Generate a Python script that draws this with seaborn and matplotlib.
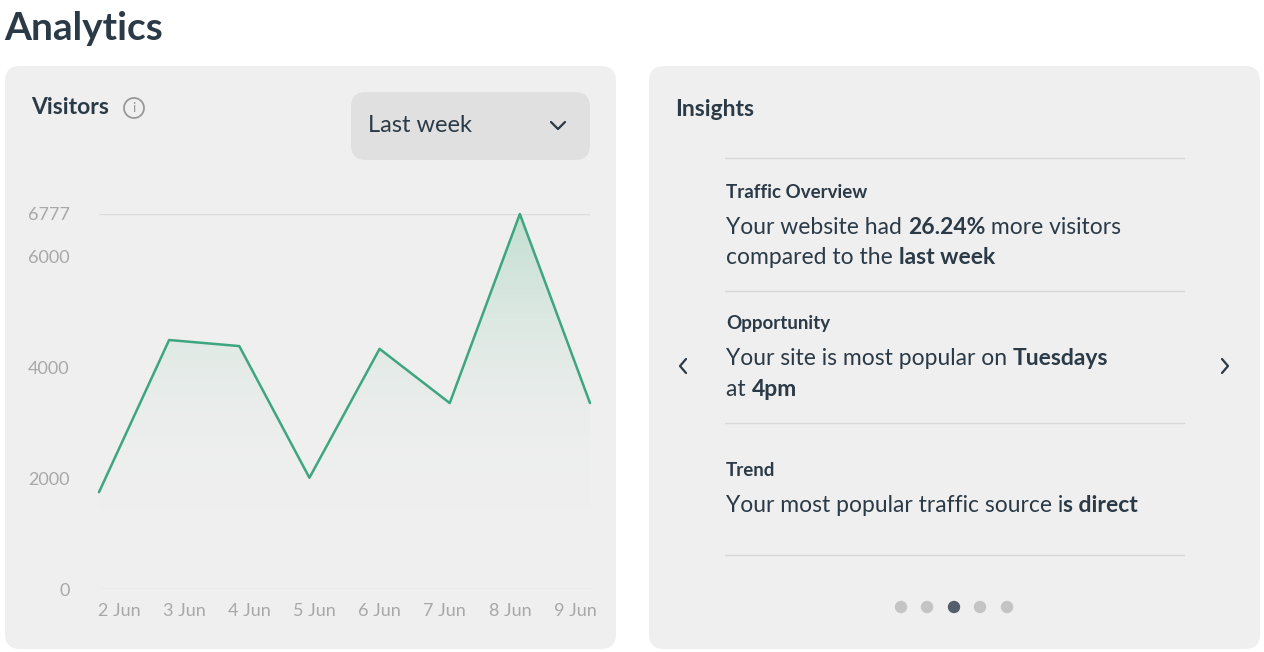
import matplotlib
matplotlib.use("Agg")
import matplotlib.pyplot as plt
import seaborn as sns
import numpy as np
import pandas as pd
from matplotlib.patches import FancyBboxPatch, Ellipse
from matplotlib.colors import LinearSegmentedColormap
from matplotlib.offsetbox import TextArea, HPacker, AnchoredOffsetbox

days = ["2 Jun", "3 Jun", "4 Jun", "5 Jun", "6 Jun", "7 Jun", "8 Jun", "9 Jun"]
visitors = [1750, 4500, 4390, 2010, 4340, 3360, 6777, 3360]
yticks = [0, 2000, 4000, 6000, 6777]

sns.set_theme(style="white")
plt.rcParams['font.family'] = ['Lato', 'DejaVu Sans']
W, H = 1264, 652
fig = plt.figure(figsize=(W/100, H/100), dpi=100)
fig.patch.set_facecolor("white")
dark = "#2b3a47"
grey = "#a8a8a8"

def fx(x): return x / W
def fy(y): return 1 - y / H

def circ(x, y, r, **kw):
    fig.patches.append(Ellipse((fx(x), fy(y)), 2 * r / W, 2 * r / H, transform=fig.transFigure, zorder=1, **kw))

for (x0, y0, x1, y1) in [(5, 66, 616, 649), (649, 66, 1260, 649)]:
    fig.patches.append(FancyBboxPatch((fx(x0), fy(y1)), fx(x1 - x0), (y1 - y0) / H,
                       boxstyle="round,pad=0,rounding_size=0.012", transform=fig.transFigure,
                       fc="#efefef", ec="none", zorder=-5, mutation_aspect=W / H))
fig.text(fx(4), fy(28), "Analytics", fontsize=28, fontweight="bold", color=dark, va="center")
fig.text(fx(31), fy(108), "Visitors", fontsize=16.5, fontweight="bold", color=dark, va="center")
circ(134, 108, 10, fill=False, ec="#999", lw=1.3)
fig.text(fx(134), fy(108), "i", fontsize=10, color="#999", ha="center", va="center")
fig.patches.append(FancyBboxPatch((fx(351), fy(160)), fx(239), 68 / H,
                   boxstyle="round,pad=0,rounding_size=0.012", transform=fig.transFigure,
                   fc="#e0e0e0", ec="none", zorder=-4, mutation_aspect=W / H))
fig.text(fx(368), fy(126), "Last week", fontsize=17, color=dark, va="center")
fig.lines.append(plt.Line2D([fx(551), fx(558), fx(565)], [fy(122), fy(129), fy(122)], transform=fig.transFigure, color=dark, lw=1.6))

ax = fig.add_axes([fx(99), fy(589), fx(491), 375 / H])
ax.set_zorder(2)
ax.set_facecolor("none")
df = pd.DataFrame({"day": np.arange(len(days)), "v": visitors})
x = df["day"].values
ax.set_xlim(0, len(days) - 1)
ax.set_ylim(0, 6777)
poly = ax.fill_between(x, 0, visitors, color="none")
grad = np.linspace(0, 1, 256).reshape(-1, 1)
cmap = LinearSegmentedColormap.from_list("g", [(0.94, 0.94, 0.94, 0), (0.55, 0.8, 0.68, 0.45)])
alpha_grad = np.clip((grad - 0.2) / 0.8, 0, 1)
im = ax.imshow(alpha_grad, extent=[0, len(days) - 1, 0, 6777], origin="lower", aspect="auto", cmap=cmap, vmin=0, vmax=1, zorder=1)
im.set_clip_path(poly.get_paths()[0], transform=ax.transData)
sns.lineplot(data=df, x="day", y="v", ax=ax, color="#3ea67f", lw=1.8, zorder=3)
for l in ax.lines:
    l.set_clip_on(False)
for t in [0, 6777]:
    ax.axhline(t, color="#dcdcdc", lw=1, zorder=0)
ax.set_yticks(yticks)
ax.set_yticklabels([str(t) for t in yticks])
# category labels are spread slightly narrower than the data points
ax.set_xticks(0.285 + 0.9287 * x)
ax.set_xticklabels(days, ha="center")
ax.tick_params(colors=grey, labelsize=13, length=0)
ax.tick_params(axis="x", pad=10)
ax.tick_params(axis="y", pad=21)
ax.set_xlabel(""); ax.set_ylabel("")
sns.despine(ax=ax, left=True, bottom=True)

# Insights panel
fig.text(fx(675), fy(109), "Insights", fontsize=16.5, fontweight="bold", color=dark, va="center")
for yl in [158, 291, 423, 555]:
    fig.lines.append(plt.Line2D([fx(725), fx(1184)], [fy(yl), fy(yl)], transform=fig.transFigure, color="#d8d8d8", lw=1))

def line(xp, yp, parts, size=16.5):
    boxes = [TextArea(s, textprops=dict(fontsize=size, color=dark, fontweight="bold" if b else "normal")) for s, b in parts]
    pk = HPacker(children=boxes, pad=0, sep=0, align="baseline")
    ab = AnchoredOffsetbox(loc="center left", child=pk, bbox_to_anchor=(fx(xp), fy(yp)), bbox_transform=fig.transFigure, frameon=False, pad=0, borderpad=0)
    fig.add_artist(ab)

fig.text(fx(726), fy(192), "Traffic Overview", fontsize=13.5, fontweight="bold", color=dark, va="center")
line(726, 227, [("Your website had ", False), ("26.24%", True), (" more visitors", False)])
line(726, 258, [("compared to the ", False), ("last week", True)])
fig.text(fx(726), fy(324), "Opportunity", fontsize=13.5, fontweight="bold", color=dark, va="center")
line(726, 358, [("Your site is most popular on ", False), ("Tuesdays", True)])
line(726, 389, [("at ", False), ("4pm", True)])
fig.text(fx(726), fy(471), "Trend", fontsize=13.5, fontweight="bold", color=dark, va="center")
line(726, 505, [("Your most popular traffic source i", False), ("s direct", True)])
fig.lines.append(plt.Line2D([fx(686), fx(680), fx(686)], [fy(359), fy(366), fy(373)], transform=fig.transFigure, color=dark, lw=1.6))
fig.lines.append(plt.Line2D([fx(1222), fx(1228), fx(1222)], [fy(359), fy(366), fy(373)], transform=fig.transFigure, color=dark, lw=1.6))
for i, xd in enumerate([901, 927, 954, 980, 1007]):
    circ(xd, 607, 5.5, color="#555f6b" if i == 2 else "#c4c4c4")
fig.savefig("out.png", dpi=100)
